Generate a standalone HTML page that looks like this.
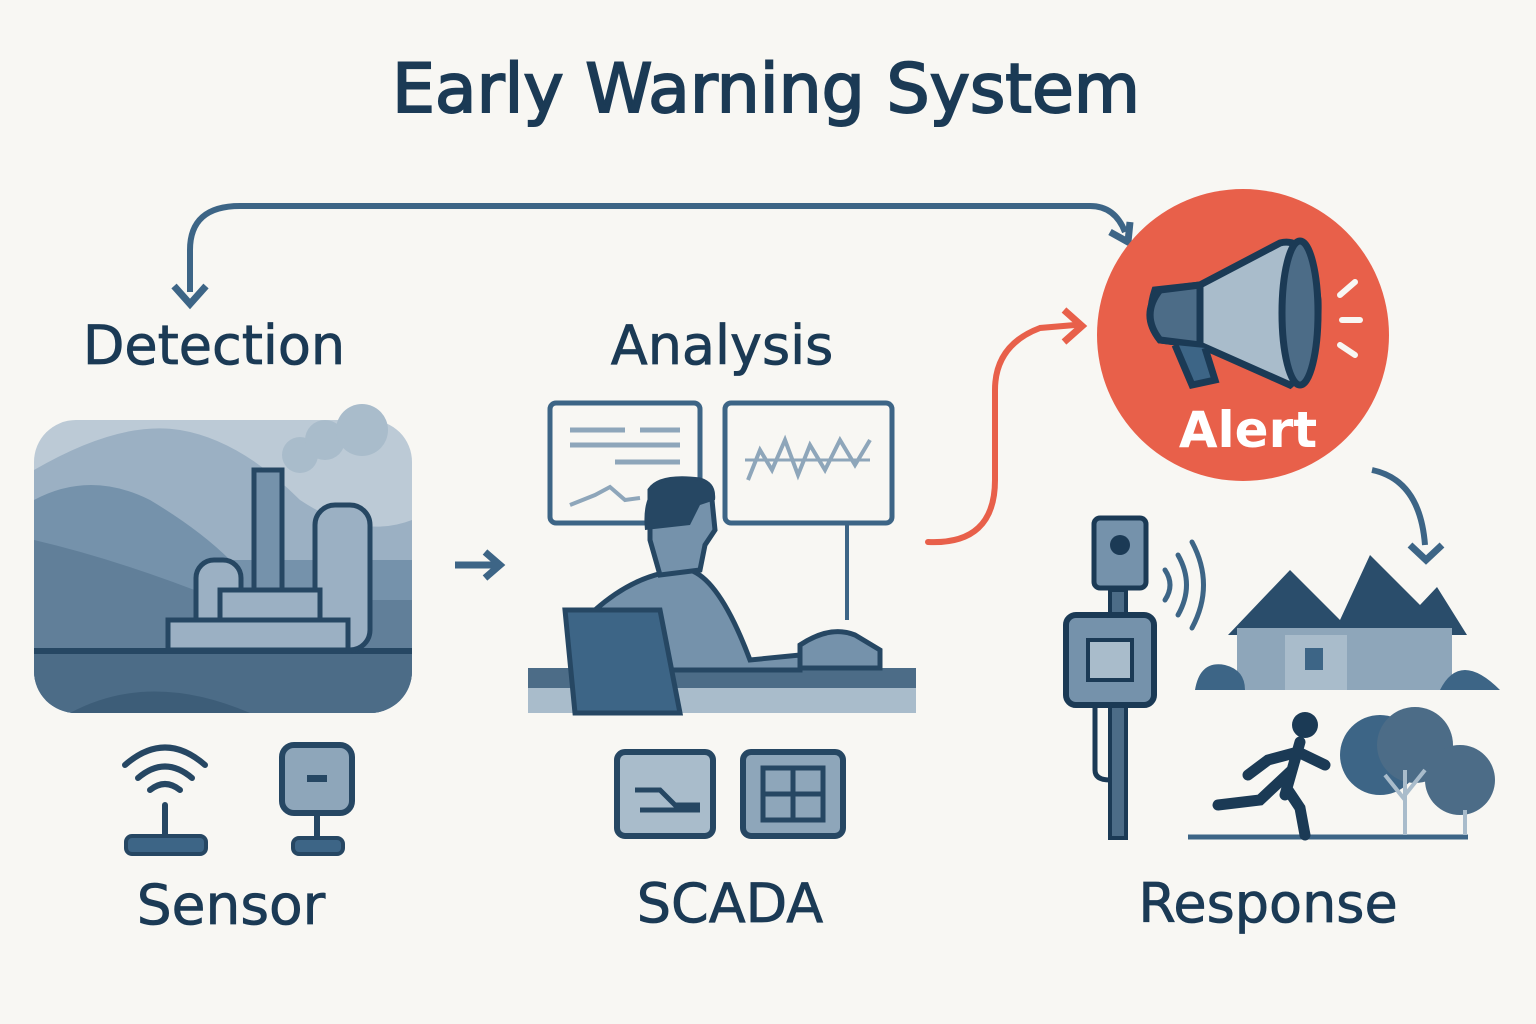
<!DOCTYPE html>
<html><head><meta charset="utf-8"><style>
html,body{margin:0;padding:0;background:#f8f7f3;}
svg{display:block}
text{font-family:"DejaVu Sans","Liberation Sans",sans-serif;}
</style></head><body>
<svg width="1536" height="1024" viewBox="0 0 1536 1024" xmlns="http://www.w3.org/2000/svg">
<rect width="1536" height="1024" fill="#f8f7f3"/>
<text x="766" y="112" text-anchor="middle" font-size="68" fill="#1b3a55" stroke="#1b3a55" stroke-width="2">Early Warning System</text>
<text x="214" y="364" text-anchor="middle" font-size="54" fill="#1b3a55" stroke="#1b3a55" stroke-width="0.8">Detection</text>
<text x="722" y="364" text-anchor="middle" font-size="54" fill="#1b3a55" stroke="#1b3a55" stroke-width="0.8">Analysis</text>
<text x="231" y="924" text-anchor="middle" font-size="55" fill="#1b3a55" stroke="#1b3a55" stroke-width="0.8">Sensor</text>
<text x="730" y="922" text-anchor="middle" font-size="54" fill="#1b3a55" stroke="#1b3a55" stroke-width="0.8">SCADA</text>
<text x="1268" y="922" text-anchor="middle" font-size="54" fill="#1b3a55" stroke="#1b3a55" stroke-width="0.8">Response</text>

<path d="M190 292 V250 Q190 206 240 206 H1090 Q1115 206 1125 232" fill="none" stroke="#3d6586" stroke-width="6"/>
<path d="M174 286 L190 304 L206 286" fill="none" stroke="#3d6586" stroke-width="7"/>
<path d="M1110 232 L1128 242 L1130 222" fill="none" stroke="#3d6586" stroke-width="7"/>

<defs><clipPath id="c1"><rect x="34" y="420" width="378" height="293" rx="42"/></clipPath></defs>
<g clip-path="url(#c1)">
<rect x="34" y="420" width="378" height="293" fill="#bccad6"/>
<path d="M34 470 Q120 420 180 430 Q240 440 300 500 Q360 540 412 520 V713 H34Z" fill="#9bb0c3"/>
<path d="M34 500 Q90 470 150 500 Q200 530 230 560 L412 560 V713 H34Z" fill="#7592ab"/>
<path d="M34 540 Q120 560 220 600 L412 600 V713 H34Z" fill="#617f99"/>
<rect x="34" y="650" width="378" height="63" fill="#4c6c87"/>
<path d="M70 713 Q150 670 250 713Z" fill="#3d5d78"/>
<rect x="34" y="648" width="378" height="6" fill="#264763"/>
<rect x="254" y="470" width="28" height="180" fill="#7592ab" stroke="#264763" stroke-width="5"/>
<rect x="315" y="505" width="55" height="145" rx="20" fill="#9bb0c3" stroke="#264763" stroke-width="5"/>
<rect x="196" y="560" width="45" height="90" rx="18" fill="#9bb0c3" stroke="#264763" stroke-width="5"/>
<rect x="220" y="590" width="100" height="60" fill="#9bb0c3" stroke="#264763" stroke-width="5"/>
<rect x="168" y="620" width="180" height="30" fill="#9bb0c3" stroke="#264763" stroke-width="5"/>
</g>
<circle cx="300" cy="455" r="18" fill="#a9bccb"/><circle cx="325" cy="440" r="20" fill="#a9bccb"/><circle cx="362" cy="430" r="26" fill="#a9bccb"/>
<path d="M455 565 H495 M485 552 L500 565 L485 578" fill="none" stroke="#3d6586" stroke-width="7"/>

<g fill="none" stroke="#264763" stroke-width="6" stroke-linecap="round">
<path d="M125 765 Q165 730 205 765"/><path d="M138 778 Q165 755 192 778"/><path d="M150 790 Q165 778 180 790"/>
<line x1="165" y1="805" x2="165" y2="840"/>
</g>
<rect x="126" y="836" width="80" height="18" rx="6" fill="#3d6586" stroke="#264763" stroke-width="4"/>
<rect x="282" y="745" width="70" height="68" rx="12" fill="#8ea6ba" stroke="#264763" stroke-width="6"/>
<rect x="307" y="775" width="20" height="7" fill="#264763"/>
<line x1="317" y1="813" x2="317" y2="840" stroke="#264763" stroke-width="6"/>
<rect x="293" y="838" width="50" height="16" rx="6" fill="#3d6586" stroke="#264763" stroke-width="4"/>

<rect x="550" y="403" width="150" height="120" rx="6" fill="#f8f7f3" stroke="#3d6586" stroke-width="5"/>
<g stroke="#8ea6ba" stroke-width="5"><line x1="570" y1="430" x2="625" y2="430"/><line x1="640" y1="430" x2="680" y2="430"/><line x1="570" y1="445" x2="680" y2="445"/><line x1="615" y1="462" x2="680" y2="462"/></g>
<path d="M570 505 L595 495 L610 487 L625 500 L640 498" fill="none" stroke="#8ea6ba" stroke-width="4"/>
<rect x="725" y="403" width="167" height="120" rx="6" fill="#f8f7f3" stroke="#3d6586" stroke-width="5"/>
<line x1="745" y1="460" x2="870" y2="460" stroke="#8ea6ba" stroke-width="3"/>
<path d="M748 480 L760 450 L772 470 L785 440 L798 475 L810 445 L825 470 L840 440 L855 465 L870 440" fill="none" stroke="#8ea6ba" stroke-width="4"/>
<line x1="847" y1="523" x2="847" y2="620" stroke="#3d6586" stroke-width="4"/>
<rect x="528" y="668" width="388" height="45" fill="#a9bccb"/>
<rect x="528" y="668" width="388" height="20" fill="#4c6c87"/>
<path d="M595 610 Q640 570 690 570 Q720 580 750 660 L800 655 L800 670 H595Z" fill="#7592ab" stroke="#264763" stroke-width="5"/>
<path d="M650 540 L650 490 Q660 475 700 480 Q715 485 712 500 L715 530 L705 545 L700 570 L660 575Z" fill="#7592ab" stroke="#264763" stroke-width="5"/>
<path d="M645 530 Q640 480 680 478 Q718 480 715 500 L700 505 L690 525 Z" fill="#264763"/>
<path d="M800 645 Q830 625 855 635 L880 650 V668 H800Z" fill="#7592ab" stroke="#264763" stroke-width="5"/>
<path d="M565 610 H660 L680 713 H575Z" fill="#3d6586" stroke="#264763" stroke-width="5"/>
<rect x="617" y="752" width="96" height="84" rx="8" fill="#a9bccb" stroke="#264763" stroke-width="6"/>
<path d="M635 790 H660 L675 805 H700 M640 810 H700" fill="none" stroke="#264763" stroke-width="5"/>
<rect x="743" y="752" width="100" height="84" rx="8" fill="#8ea6ba" stroke="#264763" stroke-width="6"/>
<rect x="763" y="768" width="60" height="52" fill="none" stroke="#264763" stroke-width="5"/>
<path d="M793 768 V820 M763 794 H823" stroke="#264763" stroke-width="5"/>

<path d="M928 542 Q995 545 995 480 V390 Q995 345 1040 328 L1075 325" fill="none" stroke="#e8604a" stroke-width="6" stroke-linecap="round"/>
<path d="M1064 310 L1082 326 L1064 342" fill="none" stroke="#e8604a" stroke-width="7"/>

<circle cx="1243" cy="335" r="146" fill="#e8604a"/>
<path d="M1155 290 L1200 285 L1280 243 Q1310 235 1318 300 Q1320 360 1290 385 L1200 345 L1160 340 Q1145 320 1155 290Z" fill="#a9bccb" stroke="#1b3a55" stroke-width="7"/>
<path d="M1160 290 Q1140 315 1160 340 L1200 345 L1200 285Z" fill="#4c6c87" stroke="#1b3a55" stroke-width="7"/>
<path d="M1175 345 L1192 385 L1215 380 L1205 348" fill="#3d6586" stroke="#1b3a55" stroke-width="7"/>
<ellipse cx="1300" cy="313" rx="18" ry="72" fill="#4c6c87" stroke="#1b3a55" stroke-width="7"/>
<g stroke="#f8f7f3" stroke-width="6" stroke-linecap="round"><line x1="1340" y1="295" x2="1355" y2="282"/><line x1="1342" y1="320" x2="1360" y2="320"/><line x1="1340" y1="345" x2="1355" y2="355"/></g>
<text x="1248" y="447" text-anchor="middle" font-size="50" font-weight="600" fill="#fff">Alert</text>
<path d="M1372 470 Q1420 480 1425 545" fill="none" stroke="#3d6586" stroke-width="6"/>
<path d="M1410 545 L1426 560 L1442 545" fill="none" stroke="#3d6586" stroke-width="7"/>

<rect x="1110" y="590" width="16" height="248" fill="#4c6c87" stroke="#1b3a55" stroke-width="4"/>
<rect x="1094" y="518" width="52" height="70" rx="6" fill="#7592ab" stroke="#1b3a55" stroke-width="5"/>
<circle cx="1120" cy="545" r="10" fill="#1b3a55"/>
<rect x="1066" y="615" width="88" height="90" rx="10" fill="#7592ab" stroke="#1b3a55" stroke-width="6"/>
<rect x="1088" y="640" width="44" height="40" fill="#a9bccb" stroke="#1b3a55" stroke-width="4"/>
<path d="M1095 705 V770 Q1095 780 1110 780" fill="none" stroke="#1b3a55" stroke-width="5"/>
<g fill="none" stroke="#3d6586" stroke-width="5" stroke-linecap="round"><path d="M1165 570 Q1175 585 1165 600"/><path d="M1178 555 Q1195 585 1178 615"/><path d="M1192 542 Q1215 585 1192 628"/></g>
<path d="M1228 635 L1290 570 L1340 620 L1370 555 L1420 605 L1437 587 L1467 635Z" fill="#2a4d6b"/>
<rect x="1237" y="628" width="215" height="62" fill="#8ea6ba"/>
<rect x="1285" y="635" width="62" height="55" fill="#a9bccb"/>
<rect x="1305" y="648" width="18" height="22" fill="#3d6586"/>
<path d="M1195 690 Q1200 660 1225 665 Q1245 670 1245 690Z M1440 690 Q1460 650 1500 690Z" fill="#3d6586"/>
<line x1="1188" y1="837" x2="1468" y2="837" stroke="#3d6586" stroke-width="5"/>
<circle cx="1305" cy="725" r="13" fill="#1b3a55"/>
<path d="M1300 742 L1285 795 M1292 770 L1260 800 L1218 805 M1288 790 L1300 808 L1305 835 M1298 752 L1325 765 M1298 752 L1268 760 L1248 775" fill="none" stroke="#1b3a55" stroke-width="11" stroke-linecap="round"/>
<circle cx="1380" cy="755" r="40" fill="#3d6586"/><circle cx="1415" cy="745" r="38" fill="#4c6c87"/><circle cx="1460" cy="780" r="35" fill="#4c6c87"/>
<path d="M1405 835 V770 M1405 800 L1385 775 M1405 795 L1425 770 M1465 835 V810" stroke="#a9bccb" stroke-width="4"/>
</svg>
</body></html>
